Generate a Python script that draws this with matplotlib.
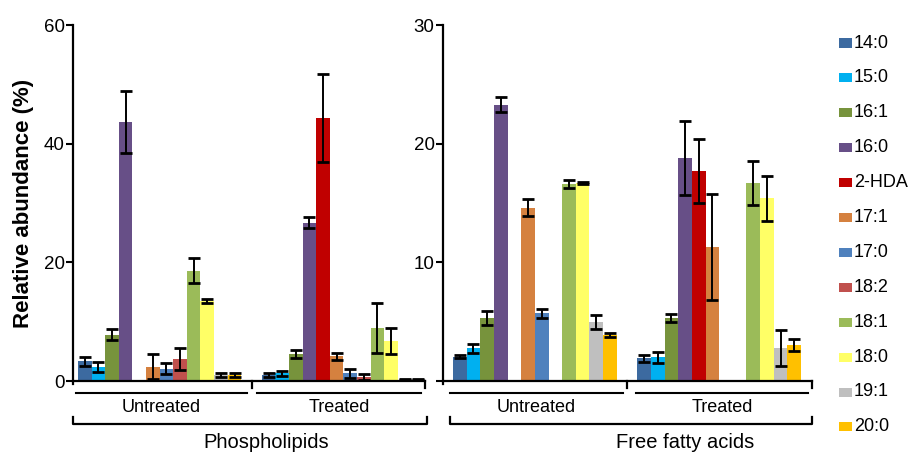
import numpy as np
import matplotlib.pyplot as plt
from matplotlib.patches import Rectangle

plt.rcParams['font.family'] = ['Liberation Sans', 'DejaVu Sans']

acids = ['14:0', '15:0', '16:1', '16:0', '2-HDA', '17:1',
         '17:0', '18:2', '18:1', '18:0', '19:1', '20:0']
colors = ['#3C6AA0', '#00B0F0', '#77933C', '#674F87', '#C00000', '#D5813F',
          '#4F81BD', '#C0504D', '#9BBB59', '#FFFF66', '#BFBFBF', '#FFC000']
groups = ['Untreated', 'Treated']

# phospholipids (%)
pl_untreated = [3.3, 2.4, 7.8, 43.7, 0, 2.4, 2.1, 3.7, 18.6, 13.5, 1.0, 1.0]
pl_untreated_err = [0.7, 0.8, 0.9, 5.2, 0, 2.1, 1.0, 1.9, 2.1, 0.3, 0.4, 0.4]
pl_treated = [1.0, 1.3, 4.5, 26.7, 44.3, 4.2, 1.3, 0.7, 9.0, 6.7, 0.2, 0.2]
pl_treated_err = [0.3, 0.4, 0.65, 0.9, 7.4, 0.6, 0.8, 0.55, 4.2, 2.2, 0.1, 0.1]

# free fatty acids (%)
ffa_untreated = [2.05, 2.75, 5.3, 23.3, 0, 14.6, 5.7, 0, 16.6, 16.7, 5.0, 3.9]
ffa_untreated_err = [0.1, 0.35, 0.6, 0.6, 0, 0.7, 0.4, 0, 0.3, 0.1, 0.6, 0.15]
ffa_treated = [1.9, 2.0, 5.3, 18.8, 17.7, 11.3, 0, 0, 16.7, 15.4, 2.8, 3.0]
ffa_treated_err = [0.3, 0.45, 0.35, 3.1, 2.7, 4.5, 0, 0, 1.85, 1.9, 1.5, 0.5]

fig = plt.figure(figsize=(9.1, 4.54), dpi=100)
ax1 = fig.add_axes([73 / 910, 1 - 381 / 454, 352 / 910, 356 / 454])
ax2 = fig.add_axes([443 / 910, 1 - 381 / 454, 369 / 910, 356 / 454])

n = len(acids)
offset = n + 1.5
xpos = [np.arange(n), np.arange(n) + offset]


def px(ax, p):
    # convert a pixel offset below the x axis into axes fraction
    return -p / ax.bbox.height * fig.dpi / 100


def draw_panel(ax, data, errs, ymax, ticks, ticklabels, xlim, lines, title, title_x):
    for k in range(2):
        vals = np.array(data[k])
        err = np.array(errs[k])
        ax.bar(xpos[k], vals, width=1.0, color=colors, edgecolor='none', zorder=2)
        m = vals > 0
        ax.errorbar(xpos[k][m], vals[m], yerr=err[m], fmt='none', ecolor='black',
                    elinewidth=1.4, capsize=4.5, capthick=2, zorder=3)
    ax.set_xlim(*xlim)
    ax.set_ylim(0, ymax)
    ax.set_yticks(ticks)
    ax.set_yticklabels(ticklabels)
    ax.set_xticks([])
    for s in ['top', 'right']:
        ax.spines[s].set_visible(False)
    ax.spines['left'].set_linewidth(1.6)
    ax.spines['bottom'].set_linewidth(1.6)
    ax.tick_params(axis='y', labelsize=13.5, length=5, width=1.5, pad=1)

    tr = ax.get_xaxis_transform()
    kw = dict(transform=tr, clip_on=False, color='black')
    # divider ticks below the axis
    mid = (xpos[0][-1] + xpos[1][0]) / 2
    for xv in [mid, xlim[1]]:
        ax.plot([xv, xv], [0, px(ax, 7)], lw=1.6, **kw)
    ax.plot([xlim[0], xlim[0]], [0, px(ax, 3)], lw=1.6, **kw)
    # group lines and labels
    for (x0, x1), g in zip(lines[:2], groups):
        ax.plot([x0, x1], [px(ax, 12)] * 2, lw=1.5, **kw)
        ax.text((x0 + x1) / 2, px(ax, 27), g, ha='center', va='center',
                fontsize=13, transform=tr)
    # bracket under both groups
    b0, b1 = lines[2]
    ax.plot([b0, b0, b1, b1], [px(ax, 36), px(ax, 43), px(ax, 43), px(ax, 36)],
            lw=1.6, **kw)
    ax.text(title_x, px(ax, 62), title, ha='center', va='center',
            fontsize=14.5, transform=tr)


draw_panel(ax1, [pl_untreated, pl_treated], [pl_untreated_err, pl_treated_err],
           60, [0, 20, 40, 60], ['0', '20', '40', '60'], (-0.87, 25.0),
           [(-0.65, 11.9), (12.65, 24.7), (-0.87, 25.15)], 'Phospholipids', 13.3)
draw_panel(ax2, [ffa_untreated, ffa_treated], [ffa_untreated_err, ffa_treated_err],
           30, [0, 10, 20, 30], ['', '10', '20', '30'], (-1.23, 25.8),
           [(-0.72, 11.94), (12.9, 25.5), (-0.72, 25.8)], 'Free fatty acids', 16.5)

ax1.set_ylabel('Relative abundance (%)', fontsize=16, fontweight='bold', labelpad=7)

# legend
for i, (name, c) in enumerate(zip(acids, colors)):
    yc = 43 + i * 34.9
    fig.add_artist(Rectangle((839 / 910, 1 - (yc + 4.5) / 454), 13 / 910, 9 / 454,
                             transform=fig.transFigure, color=c, lw=0))
    fig.text(854 / 910, 1 - yc / 454, name, ha='left', va='center', fontsize=13)

fig.savefig('out.png', dpi=100)
